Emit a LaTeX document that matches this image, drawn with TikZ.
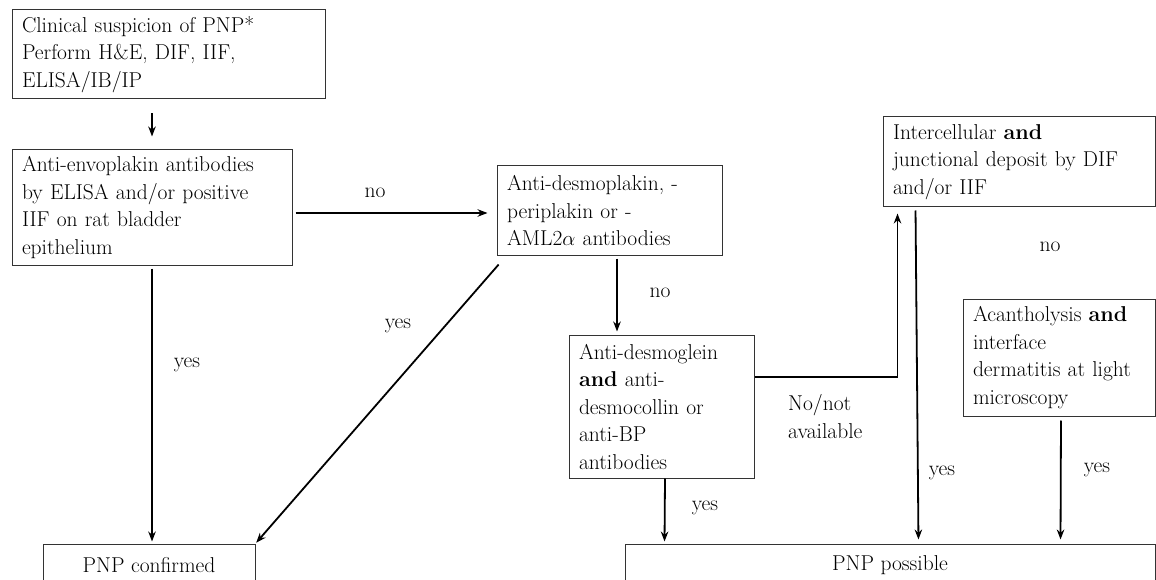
\documentclass[tikz,border=0pt]{standalone}
\usetikzlibrary{arrows.meta}
\begin{document}
\begin{tikzpicture}[x=1pt,y=-1pt,
  box/.style={draw=black!80, line width=1pt, rectangle, inner xsep=10pt, inner ysep=0pt, align=left, font=\fontsize{21.5}{27.5}\selectfont},
  cbox/.style={box, align=center},
  lbl/.style={font=\fontsize{21.5}{27.5}\selectfont, inner sep=0pt, align=left},
  conn/.style={line width=1.8pt, -{Stealth[length=10pt,width=7.5pt]}}]
\useasboundingbox (0,0) rectangle (1156,580);

\node[box, minimum width=313pt, minimum height=89pt, text width=293pt] (clin) at (168.5,54.5)
  {Clinical suspicion of PNP*\\Perform H\&E, DIF, IIF,\\ELISA/IB/IP};
\node[box, minimum width=280pt, minimum height=115pt, text width=260pt] (env) at (152,207.5)
  {Anti-envoplakin antibodies\\by ELISA and/or positive\\IIF on rat bladder\\epithelium};
\node[box, minimum width=225pt, minimum height=89pt, text width=205pt] (dsp) at (609.5,210.5)
  {Anti-desmoplakin, -\\periplakin or -\\AML2$\alpha$ antibodies};
\node[box, minimum width=185pt, minimum height=143pt, text width=165pt] (dsg) at (661.5,406.5)
  {Anti-desmoglein\\\textbf{and} anti-\\desmocollin or\\anti-BP\\antibodies};
\node[box, minimum width=272pt, minimum height=90pt, text width=252pt] (intc) at (1019,162)
  {Intercellular \textbf{and}\\junctional deposit by DIF\\and/or IIF};
\node[box, minimum width=192pt, minimum height=117pt, text width=172pt] (acan) at (1059,357.5)
  {Acantholysis \textbf{and}\\interface\\dermatitis at light\\microscopy};
\node[cbox, minimum width=212pt, minimum height=42pt] (conf) at (149,565) {PNP confirmed};
\node[cbox, minimum width=530pt, minimum height=42pt] (poss) at (890,565) {PNP possible};

\draw[conn, shorten <=14pt, shorten >=13pt] (clin.south -| env.south) -- (env.north);
\draw[conn, shorten <=3pt, shorten >=9pt] ([yshift=-5.5pt]env.east) -- ([yshift=-2.5pt]dsp.west);
\draw[conn, shorten <=3pt, shorten >=2pt] (env.south) -- (env.south |- conf.north);
\draw[conn, shorten <=12pt, shorten >=1pt] ([xshift=10pt]dsp.south west) -- (conf.north east);
\draw[conn, shorten <=3pt, shorten >=3pt] ([xshift=7.5pt]dsp.south) -- ([xshift=-44.5pt]dsg.north);
\draw[conn, shorten >=6pt] ([yshift=29.5pt]dsg.east) -| ([xshift=15pt]intc.south west);
\draw[conn, shorten <=3pt, shorten >=4pt] ([xshift=33pt]intc.south west) -- ([xshift=294pt]poss.north west);
\draw[conn, shorten <=4pt, shorten >=4pt] ([xshift=2pt]acan.south) -- ([xshift=436pt]poss.north west);
\draw[conn, shorten >=2pt] ([xshift=3.5pt]dsg.south) -- ([xshift=40pt]poss.north west);

\node[lbl] (no1) at (375,193) {no};
\node[lbl] (no2) at (660,293) {no};
\node[lbl] (no3) at (1050,247) {no};
\node[lbl] (yes1) at (187,365) {yes};
\node[lbl] (yes2) at (398,326) {yes};
\node[lbl] (yes3) at (705,508) {yes};
\node[lbl] (yes4) at (942,473) {yes};
\node[lbl] (yes5) at (1097,470) {yes};
\node[lbl, anchor=west] (na) at (788,416.5) {No/not\\available};
\end{tikzpicture}
\end{document}
